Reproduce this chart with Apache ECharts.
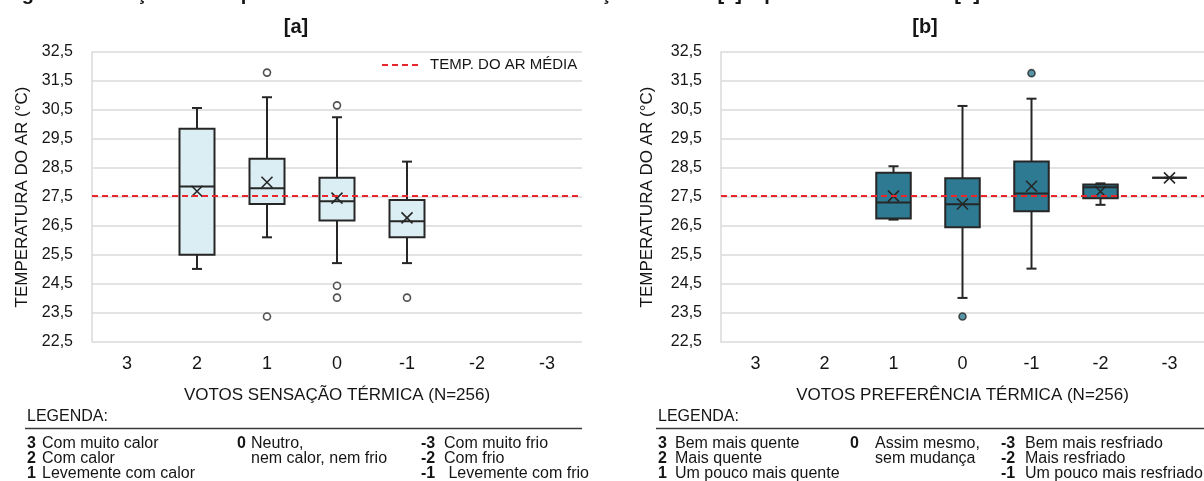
<!DOCTYPE html>
<html>
<head>
<meta charset="utf-8">
<script src="https://cdn.jsdelivr.net/npm/echarts@6/dist/echarts.min.js"></script>
<style>
  body { margin: 0; background: #fff; }
  #chart { width: 1204px; height: 481px; }
</style>
</head>
<body>
<div id="chart"></div>
<script>
// vote categories, same for both panels
const categories = ['3', '2', '1', '0', '-1', '-2', '-3'];

// [min, Q1, median, Q3, max] per category (null = no box)
const sensBoxes = [null, [25.02, 25.51, 27.86, 29.85, 30.57], [26.11, 27.26, 27.8, 28.82, 30.94],
  [25.22, 26.69, 27.35, 28.16, 30.25], [25.22, 26.11, 26.66, 27.4, 28.72], null, null];
const sensMeans = [null, 27.7, 28.01, 27.46, 26.78, null, null];
const sensOutliers = [['1', 31.79], ['1', 23.38], ['0', 30.66], ['0', 24.44], ['0', 24.03], ['-1', 24.03]];

const prefBoxes = [null, null, [26.72, 26.76, 27.31, 28.34, 28.56], [24.02, 26.46, 27.25, 28.15, 30.64],
  [25.03, 27.01, 27.62, 28.72, 30.89], [27.23, 27.46, 27.84, 27.93, 27.97], [28.16, 28.16, 28.16, 28.16, 28.16]];
const prefMeans = [null, null, 27.53, 27.26, 27.87, 27.69, 28.16];
const prefOutliers = [['0', 23.38], ['-1', 31.77]];

const meanAirTemp = 27.53;
const yTicks = { min: 22.5, max: 32.5, step: 1 };

const sensLegend = [
  [['3', 'Com muito calor'], ['2', 'Com calor'], ['1', 'Levemente com calor']],
  [['0', 'Neutro,'], ['', 'nem calor, nem frio']],
  [['-3', 'Com muito frio'], ['-2', 'Com frio'], ['-1', ' Levemente com frio']]
];
const prefLegend = [
  [['3', 'Bem mais quente'], ['2', 'Mais quente'], ['1', 'Um pouco mais quente']],
  [['0', 'Assim mesmo,'], ['', 'sem mudança']],
  [['-3', 'Bem mais resfriado'], ['-2', 'Mais resfriado'], ['-1', 'Um pouco mais resfriado']]
];

const font = '"Liberation Sans", Arial, sans-serif';
const ink = '#151515';
const edge = '#262626';

let chart = echarts.init(document.getElementById('chart'));

let boxData = (boxes) => {
  let out = [];
  boxes.forEach((b, i) => { if (b) out.push([i].concat(b)); });
  return out;
};
let meanData = (means) => {
  let out = [];
  means.forEach((m, i) => { if (m != null) out.push([i, m]); });
  return out;
};
let outlierData = (list) => list.map((o) => [categories.indexOf(o[0]), o[1]]);

let seg = (x1, y1, x2, y2, w) => ({
  type: 'line', shape: { x1, y1, x2, y2 }, style: { stroke: edge, lineWidth: w || 2 }
});

let boxRender = (fill) => (params, api) => {
  let x = api.value(0);
  let pMin = api.coord([x, api.value(1)]);
  let pQ1 = api.coord([x, api.value(2)]);
  let pMed = api.coord([x, api.value(3)]);
  let pQ3 = api.coord([x, api.value(4)]);
  let pMax = api.coord([x, api.value(5)]);
  let half = api.size([1, 0])[0] * 0.25;
  let cx = pMed[0];
  return {
    type: 'group',
    children: [
      seg(cx, pQ3[1], cx, pMax[1]),
      seg(cx - 5, pMax[1], cx + 5, pMax[1]),
      seg(cx, pQ1[1], cx, pMin[1]),
      seg(cx - 5, pMin[1], cx + 5, pMin[1]),
      {
        type: 'rect',
        shape: { x: cx - half, y: pQ3[1], width: 2 * half, height: pQ1[1] - pQ3[1] },
        style: { fill: fill, stroke: edge, lineWidth: 2 }
      },
      seg(cx - half, pMed[1], cx + half, pMed[1])
    ]
  };
};

let meanRender = (params, api) => {
  let p = api.coord([api.value(0), api.value(1)]);
  let s = 5.5;
  return {
    type: 'group',
    children: [
      seg(p[0] - s, p[1] - s, p[0] + s, p[1] + s, 1.6),
      seg(p[0] - s, p[1] + s, p[0] + s, p[1] - s, 1.6)
    ]
  };
};

let makeSeries = (idx, boxes, means, outliers, fill, dotFill) => [
  {
    type: 'custom', xAxisIndex: idx, yAxisIndex: idx,
    renderItem: boxRender(fill),
    encode: { x: 0, y: [1, 2, 3, 4, 5] },
    data: boxData(boxes), z: 2
  },
  {
    type: 'custom', xAxisIndex: idx, yAxisIndex: idx,
    renderItem: meanRender,
    encode: { x: 0, y: 1 },
    data: meanData(means), z: 4
  },
  {
    type: 'scatter', xAxisIndex: idx, yAxisIndex: idx,
    symbol: 'circle', symbolSize: 7,
    itemStyle: { color: dotFill, borderColor: edge, borderWidth: 1.6 },
    data: outlierData(outliers), z: 3
  },
  {
    type: 'line', xAxisIndex: idx, yAxisIndex: idx, data: [], z: 5,
    markLine: {
      silent: true, symbol: ['none', 'none'], label: { show: false },
      lineStyle: { color: '#e8262b', type: [6, 4], width: 2 },
      data: [{ yAxis: meanAirTemp }]
    }
  }
];

let xAxisFor = (idx, name) => ({
  type: 'category', gridIndex: idx, data: categories,
  axisLine: { show: false }, axisTick: { show: false },
  axisLabel: { color: ink, fontSize: 18, fontFamily: font, margin: 13 },
  name: name, nameLocation: 'middle', nameGap: 45,
  nameTextStyle: { color: ink, fontSize: 17, fontFamily: font }
});

let yAxisFor = (idx, gap) => ({
  type: 'value', gridIndex: idx, min: yTicks.min, max: yTicks.max, interval: yTicks.step,
  axisLine: { show: true, lineStyle: { color: '#dadada', width: 1.5 } },
  axisTick: { show: false },
  splitLine: { lineStyle: { color: '#dadada', width: 1.5 } },
  axisLabel: {
    color: ink, fontSize: 16, fontFamily: font, margin: 19,
    formatter: (v) => v.toFixed(1).replace('.', ',')
  },
  name: 'TEMPERATURA DO AR (°C)', nameLocation: 'middle', nameGap: gap,
  nameTextStyle: { color: ink, fontSize: 17, fontFamily: font }
});

let txt = (text, x, y, size, opts) => Object.assign({
  type: 'text', x: x, y: y,
  style: Object.assign({
    text: text, fill: ink, fontSize: size, fontFamily: font, verticalAlign: 'middle'
  }, (opts && opts.style) || {})
}, (opts && opts.el) || {});

let rowsY = [443.7, 458.7, 473.7];

let legendGraphics = (x0, ruleEnd, cols, colX) => {
  let items = [
    txt('LEGENDA:', x0, 417, 16),
    { type: 'line', shape: { x1: x0 - 2, y1: 428.5, x2: ruleEnd, y2: 428.5 }, style: { stroke: '#3a3a3a', lineWidth: 1.5 } }
  ];
  cols.forEach((col, c) => {
    col.forEach((row, r) => {
      if (row[0]) items.push(txt(row[0], colX[c][0], rowsY[r], 16, { style: { fontWeight: 'bold' } }));
      items.push(txt(row[1], colX[c][1], rowsY[r], 16));
    });
  });
  return items;
};

let graphics = [
  txt('Figura 8: Relação da temperatura do ar com os votos de sensação térmica [a] e preferência térmica [b]',
    4, 4, 20, { style: { fontWeight: 'bold', verticalAlign: 'bottom' } }),
  txt('[a]', 296, 27, 20, { style: { fontWeight: 'bold', align: 'center' } }),
  txt('[b]', 925, 27, 20, { style: { fontWeight: 'bold', align: 'center' } }),
  { type: 'line', shape: { x1: 382, y1: 65, x2: 418, y2: 65 }, style: { stroke: '#e8262b', lineWidth: 2, lineDash: [6, 4] } },
  txt('TEMP. DO AR MÉDIA', 430, 65, 15)
].concat(
  legendGraphics(27, 582, sensLegend, [[27, 42], [237, 251], [421, 444]]),
  legendGraphics(658, 1204, prefLegend, [[658, 675], [850, 875], [1001, 1025]])
);

chart.setOption({
  animation: false,
  backgroundColor: '#fff',
  grid: [
    { left: 92, top: 52, width: 490, height: 290 },
    { left: 721, top: 52, width: 487, height: 290 }
  ],
  xAxis: [
    xAxisFor(0, 'VOTOS SENSAÇÃO TÉRMICA (N=256)'),
    xAxisFor(1, 'VOTOS PREFERÊNCIA TÉRMICA (N=256)')
  ],
  yAxis: [yAxisFor(0, 61), yAxisFor(1, 65)],
  series: makeSeries(0, sensBoxes, sensMeans, sensOutliers, '#dbeef4', '#ffffff')
    .concat(makeSeries(1, prefBoxes, prefMeans, prefOutliers, '#2e7a92', '#2e7a92')),
  graphic: graphics
});
</script>
</body>
</html>
